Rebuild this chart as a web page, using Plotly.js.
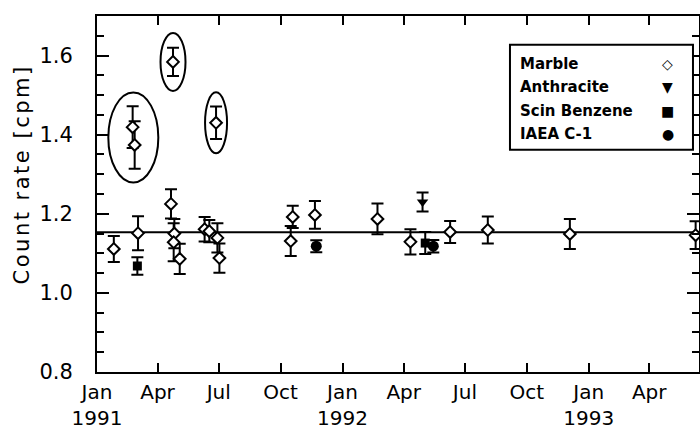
<!DOCTYPE html>
<html>
<head>
<meta charset="utf-8">
<script src="https://cdn.plot.ly/plotly-3.0.1.min.js"></script>
<style>html,body{margin:0;padding:0;background:#fff;}#chart{width:700px;height:433px;}
#chart .annotation[data-index="0"] text{letter-spacing:2.5px;}</style>
</head>
<body>
<div id="chart"></div>
<script>
// ---- data ----
const marbleDates = ['1991-01-26','1991-02-23','1991-02-26','1991-03-03','1991-04-21','1991-04-24','1991-04-26','1991-04-25','1991-05-04','1991-06-10','1991-06-17','1991-06-27','1991-06-29','1991-07-02','1991-10-16','1991-10-19','1991-11-21','1992-02-22','1992-04-11','1992-06-09','1992-08-04','1992-12-04','1993-06-09'];
const marbleRates = [1.111,1.419,1.374,1.151,1.225,1.584,1.150,1.128,1.086,1.161,1.156,1.430,1.139,1.088,1.131,1.192,1.197,1.187,1.129,1.154,1.159,1.149,1.146];
const marbleErrs  = [0.033,0.053,0.060,0.043,0.037,0.036,0.037,0.048,0.038,0.031,0.028,0.041,0.037,0.037,0.038,0.028,0.035,0.039,0.032,0.028,0.034,0.038,0.035];

const anthraciteDates = ['1992-04-29'];
const anthraciteRates = [1.230];
const anthraciteErrs  = [0.024];

const benzeneDates = ['1991-03-02','1992-05-03'];
const benzeneRates = [1.068,1.126];
const benzeneErrs  = [0.022,0.028];

const iaeaDates = ['1991-11-23','1992-05-15'];
const iaeaRates = [1.118,1.118];
const iaeaErrs  = [0.015,0.016];

const meanRate = 1.153;
const outlierGroups = [[1,2],[5],[11]];   // indices of circled marble points

const tickDates = ['1991-01-01','1991-04-01','1991-07-01','1991-10-01','1992-01-01','1992-04-01','1992-07-01','1992-10-01','1993-01-01','1993-04-01'];
const tickLabels = ['Jan<br>1991','Apr','Jul','Oct','Jan<br>1992','Apr','Jul','Oct','Jan<br>1993','Apr'];
const yTitle = 'Count rate [cpm]';
const legendNames = ['Marble','Anthracite','Scin Benzene','IAEA C-1'];
const legendSymbols = ['◇','▼','■','●'];

// ---- styles ----
const FONT = 'DejaVu Sans, sans-serif';
const errStyle = {type:'data', visible:true, color:'#000', thickness:2, width:6};
function errs(a){ return Object.assign({array:a}, errStyle); }

const traces = [
  {x:marbleDates, y:marbleRates, error_y:errs(marbleErrs), mode:'markers', type:'scatter', cliponaxis:false,
   marker:{symbol:'diamond', size:9, color:'#fff', line:{color:'#000', width:2}}},
  {x:anthraciteDates, y:anthraciteRates, error_y:errs(anthraciteErrs), mode:'markers', type:'scatter',
   marker:{symbol:'triangle-down', size:10, color:'#000'}},
  {x:benzeneDates, y:benzeneRates, error_y:errs(benzeneErrs), mode:'markers', type:'scatter',
   marker:{symbol:'square', size:9, color:'#000'}},
  {x:iaeaDates, y:iaeaRates, error_y:errs(iaeaErrs), mode:'markers', type:'scatter',
   marker:{symbol:'circle', size:11, color:'#000'}}
];

// ellipse sizes (pixels) around outlier groups
const ellipseSizes = [[50,90],[25,58],[22,61]];
const shapes = [
  {type:'line', xref:'paper', x0:0, x1:1, yref:'y', y0:meanRate, y1:meanRate, line:{color:'#000', width:2}, layer:'below'}
];
outlierGroups.forEach((g, k) => {
  const t = g.map(i => new Date(marbleDates[i]).getTime());
  const cx = new Date(t.reduce((a,b)=>a+b,0)/t.length).toISOString().slice(0,10);
  const lo = Math.min(...g.map(i => marbleRates[i]-marbleErrs[i]));
  const hi = Math.max(...g.map(i => marbleRates[i]+marbleErrs[i]));
  const [w,h] = ellipseSizes[k];
  shapes.push({type:'circle', xref:'x', yref:'y', xsizemode:'pixel', ysizemode:'pixel',
    xanchor:cx, yanchor:(lo+hi)/2, x0:-w/2, x1:w/2, y0:-h/2, y1:h/2,
    line:{color:'#000', width:2}});
});
// legend box
shapes.push({type:'rect', xref:'paper', yref:'paper', x0:0.686, x1:0.990, y0:0.624, y1:0.919,
  line:{color:'#000', width:2}, fillcolor:'#fff', layer:'above'});

const annotations = [
  {xref:'paper', yref:'paper', x:0, y:0.555, xshift:-75, xanchor:'center', yanchor:'middle', textangle:-90,
   text:yTitle, showarrow:false, font:{family:FONT, size:21, color:'#000'}}
];
const legY = [0.865, 0.800, 0.733, 0.668];
legendNames.forEach((n,i) => {
  annotations.push({xref:'paper', yref:'paper', x:0.700, y:legY[i], xanchor:'left', yanchor:'middle',
    text:'<b>'+n+'</b>', showarrow:false, font:{family:FONT, size:15, color:'#000'}});
  annotations.push({xref:'paper', yref:'paper', x:0.948, y:legY[i], xanchor:'center', yanchor:'middle',
    text:'<b>'+legendSymbols[i]+'</b>', showarrow:false, font:{family:FONT, size:14, color:'#000'}});
});

const layout = {
  width:700, height:433,
  margin:{l:97, r:1, t:16, b:61},
  paper_bgcolor:'#fff', plot_bgcolor:'#fff',
  showlegend:false,
  font:{family:FONT, size:21, color:'#000'},
  xaxis:{type:'date', range:['1991-01-01','1993-06-14'], tickmode:'array', tickvals:tickDates, ticktext:tickLabels,
    showgrid:false, zeroline:false, showline:true, linecolor:'#000', linewidth:2, mirror:'ticks',
    ticks:'inside', ticklen:9, tickwidth:2, tickcolor:'#000', tickfont:{family:FONT, size:20}, ticklabelstandoff:1},
  yaxis:{range:[0.8,1.7], tickmode:'linear', tick0:0.8, dtick:0.2, tickformat:'.1f',
    showgrid:false, zeroline:false, showline:true, linecolor:'#000', linewidth:2, mirror:'ticks',
    ticks:'inside', ticklen:12, tickwidth:2, tickcolor:'#000', tickfont:{family:FONT, size:21}, ticklabelstandoff:18,
    minor:{dtick:0.05, tick0:0.8, ticks:'inside', ticklen:7, tickwidth:2, tickcolor:'#000', showgrid:false}},
  shapes:shapes,
  annotations:annotations
};

Plotly.newPlot('chart', traces, layout, {displayModeBar:false, staticPlot:true});
</script>
</body>
</html>
